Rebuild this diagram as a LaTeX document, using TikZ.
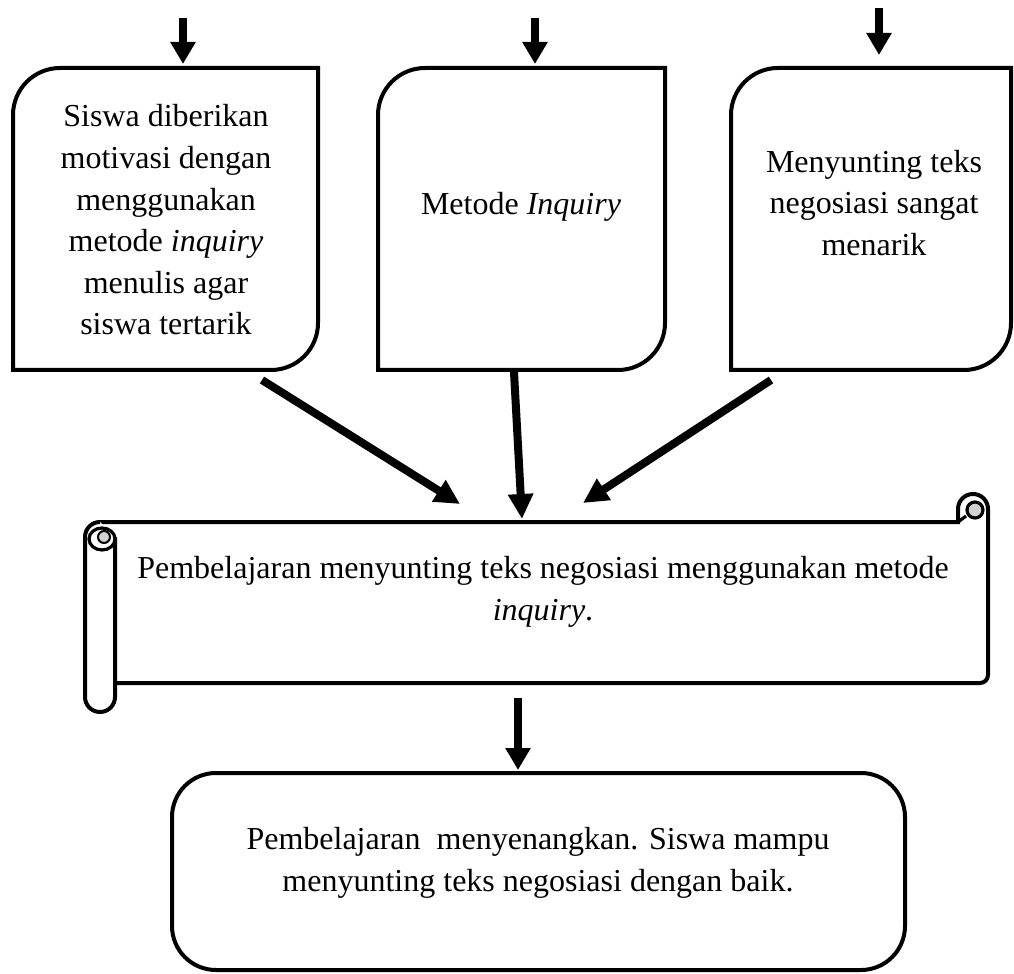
\documentclass[tikz,border=0pt]{standalone}
\usepackage{fontspec}
\setmainfont{Liberation Serif}
\usetikzlibrary{arrows.meta,calc}
\newcommand\roundiagbox[1]{%
  \draw[boxline] (#1.south west) -- ([yshift=-23.5pt]#1.north west)
    arc[start angle=180,end angle=90,radius=23.5pt] -- (#1.north east)
    -- ([yshift=23.5pt]#1.south east)
    arc[start angle=0,end angle=-90,radius=23.5pt] -- cycle;}
\begin{document}
\begin{tikzpicture}[x=0.5pt,y=-0.5pt,
  boxline/.style={line width=2pt},
  txt/.style={align=center, font=\fontsize{16pt}{20.8pt}\selectfont, inner sep=0pt},
  frame/.style={draw=none, inner sep=0pt, outer sep=0pt},
  toparr/.style={line width=3.75pt, -{Triangle[width=12pt,length=11pt]}},
  bigarr/.style={line width=4pt, -{Triangle[width=12pt,length=12.5pt]}},
]
\useasboundingbox (0,0) rectangle (1014,974);

% frames
\node[frame, minimum width=152.5pt, minimum height=151pt] (A) at (165.5,219) {};
\node[frame, minimum width=143.5pt, minimum height=151pt] (B) at (521.5,219) {};
\node[frame, minimum width=140pt, minimum height=151pt] (C) at (871,219) {};
\node[frame, minimum width=444pt, minimum height=80.5pt] (S) at (544,602.5) {};
\node[frame, minimum width=366.5pt, minimum height=98.5pt] (D) at (538.5,871.5) {};

\roundiagbox{A}
\roundiagbox{B}
\roundiagbox{C}
\draw[boxline, rounded corners=22pt] (D.south west) rectangle (D.north east);

% scroll outline
\draw[boxline, fill=white] (100,522) -- (958,522) -- (958,509)
  arc[start angle=180,end angle=0,radius=7.5pt] -- (988,675)
  arc[start angle=0,end angle=-90,radius=4pt] -- (115,683);
\draw[boxline, fill=white] (115,537) -- (115,697)
  arc[start angle=0,end angle=-180,radius=7.5pt] -- (85,537)
  arc[start angle=180,end angle=90,radius=7.5pt] -- (100,522);
\draw[line width=1.6pt, fill=white] (102,539) circle[x radius=6.5pt, y radius=5.5pt];
\draw[line width=1pt, fill=gray!35] (104,537) circle[radius=3pt];
\draw[line width=1.6pt, fill=gray!35] (975,510) circle[radius=4pt];
\draw[line width=1.6pt] (958,522) -- (966,516);

% texts
\node[txt] (tA) at (166,220) {Siswa diberikan\\motivasi dengan\\menggunakan\\metode \textit{inquiry}\\menulis agar\\siswa tertarik};
\node[txt] (tB) at (521,207) {Metode \textit{Inquiry}};
\node[txt] (tC) at (874,203) {Menyunting teks\\negosiasi sangat\\menarik};
\node[txt] (tS) at (543,592) {Pembelajaran menyunting teks negosiasi menggunakan metode\\\textit{inquiry}.};
\node[txt] (tD) at (538,863) {Pembelajaran~ menyenangkan. Siswa mampu\\menyunting teks negosiasi dengan baik.};

% incoming arrows
\coordinate (inA) at (183,18);
\coordinate (inB) at (535,18);
\coordinate (inC) at (879,8);
\draw[toparr, shorten >=2pt] (inA) -- (inA |- A.north);
\draw[toparr, shorten >=2pt] (inB) -- (inB |- B.north);
\draw[toparr, shorten >=6.5pt] (inC) -- (inC |- C.north);

% converging arrows
\draw[bigarr] ([shift={(-28pt,-5pt)}]A.south east) -- ([shift={(-42pt,9pt)}]S.north);
\draw[bigarr] ([shift={(-3.75pt,-1pt)}]B.south) -- ([shift={(-11pt,1.5pt)}]S.north);
\draw[bigarr] ([shift={(20pt,-5pt)}]C.south west) -- ([shift={(19.5pt,9.5pt)}]S.north);

% output arrow
\draw[toparr] ([shift={(-13pt,-7.5pt)}]S.south) -- ([shift={(-10.25pt,1.5pt)}]D.north);
\end{tikzpicture}
\end{document}
